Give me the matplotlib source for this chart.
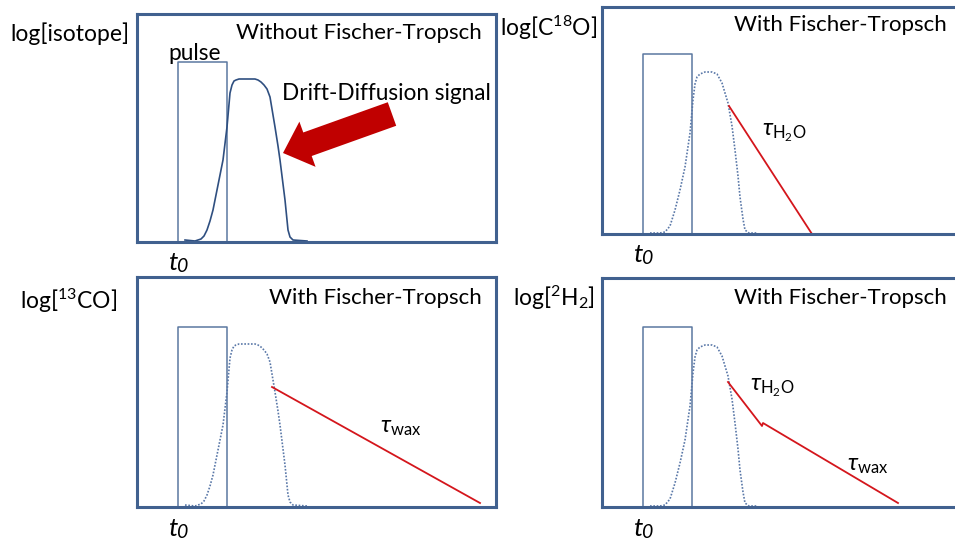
import matplotlib.pyplot as plt

plt.rcParams["font.family"] = ["Lato", "DejaVu Sans"]
plt.rcParams["mathtext.fontset"] = "custom"
plt.rcParams["mathtext.rm"] = "Lato"
plt.rcParams["mathtext.it"] = "Lato:italic"

# pulse (time units, log units)
pulse_start = 41
pulse_end = 90
pulse_height = 180

# drift-diffusion signal (no FT), also used in the 13CO panel
signal_t = [48, 58, 64, 67, 70, 73, 76, 80, 83, 86, 90, 93, 95, 97, 99, 102, 118, 121, 124, 127,
            130, 133, 136, 138, 141, 143, 146, 148, 150, 151, 153, 156, 170]
signal_y = [2, 1, 3, 6, 12, 21, 32, 52, 67, 82, 115, 149, 157, 161, 162, 163, 163, 162, 160, 157,
            153, 145, 127, 115, 96, 82, 58, 42, 22, 12, 5, 2, 1]

# signal in the C18O and 2H2 panels
signal2_t = [48, 58, 63, 68, 73, 78, 83, 88, 91, 93, 95, 98, 103, 110, 115, 120, 126, 130, 133, 136, 138, 141, 143, 147, 155]
signal2_y = [1, 1, 2, 8, 24, 44, 67, 101, 134, 150, 157, 160, 162, 162, 160, 151, 131, 108, 84, 58, 37, 15, 4, 1, 1]

# exponential tails (straight on log scale)
c18o_tail_t = [127, 210]
c18o_tail_y = [128, 0]
co13_tail_t = [135, 343]
co13_tail_y = [120, 4]
h2_tail_t = [126, 160, 161, 296]
h2_tail_y = [125, 81, 84, 4]

W, H = 955, 545
fig = plt.figure(figsize=(W / 100, H / 100), dpi=100)

frame_col = "#41618f"
pulse_col = "#5b78a0"
red = "#d4161c"


def panel(left, top, height, title, ylab, ylab_x, ylab_y):
    ax = fig.add_axes([left / W, (H - top - height) / H, 359 / W, height / H])
    ax.set_xlim(0, 359)
    ax.set_ylim(0, height)
    ax.set_xticks([])
    ax.set_yticks([])
    for s in ax.spines.values():
        s.set_color(frame_col)
        s.set_linewidth(2.2)
    ax.plot([pulse_start, pulse_start, pulse_end, pulse_end],
            [0, pulse_height, pulse_height, 0], color=pulse_col, lw=1.1)
    ax.text(345, 209, title, ha="right", va="center", fontsize=16)
    ax.text(ylab_x, ylab_y, ylab, ha="right", va="center", fontsize=16.5, clip_on=False)
    # t0 label under the pulse start
    ax.text(31, -21, "t", ha="left", va="center", fontsize=19, style="italic", clip_on=False)
    ax.text(39.5, -25, "0", ha="left", va="center", fontsize=14, style="italic", clip_on=False)
    return ax


ax1 = panel(137, 14, 228, "Without Fischer-Tropsch", "log[isotope]", -8, 208)
ax1.plot(signal_t, signal_y, color="#2f4f80", lw=1.2)
ax1.text(31, 189, "pulse", ha="left", va="center", fontsize=16.3)
ax1.text(145, 149, "Drift-Diffusion signal", ha="left", va="center", fontsize=16.3)
ax1.arrow(255, 128, 146 - 255, 89 - 128, width=25, head_width=48, head_length=26,
          length_includes_head=True, color="#c00000", lw=0)

ax2 = panel(602, 7, 227, "With Fischer-Tropsch", r"log[C$^{18}$O]", -5, 206)
ax2.plot(signal2_t, signal2_y, color="#5a78a8", lw=1.2, ls=(0, (1, 1)))
ax2.plot(c18o_tail_t, c18o_tail_y, color=red, lw=1.3)
ax2.text(160, 101, r"$\tau_{\mathrm{H_2O}}$", ha="left", va="center", fontsize=17)

ax3 = panel(137, 277, 230, "With Fischer-Tropsch", r"log[$^{13}$CO]", -20, 206)
ax3.plot(signal_t, signal_y, color="#5a78a8", lw=1.2, ls=(0, (1, 1)))
ax3.plot(co13_tail_t, co13_tail_y, color=red, lw=1.3)
ax3.text(243, 79, r"$\tau_{\mathrm{wax}}$", ha="left", va="center", fontsize=17)

ax4 = panel(602, 278, 229, "With Fischer-Tropsch", r"log[$^{2}$H$_{2}$]", -7, 209)
ax4.plot(signal2_t, signal2_y, color="#5a78a8", lw=1.2, ls=(0, (1, 1)))
ax4.plot(h2_tail_t, h2_tail_y, color=red, lw=1.3)
ax4.text(148, 119, r"$\tau_{\mathrm{H_2O}}$", ha="left", va="center", fontsize=17)
ax4.text(245, 42, r"$\tau_{\mathrm{wax}}$", ha="left", va="center", fontsize=17)

fig.savefig("out.png", dpi=100)
